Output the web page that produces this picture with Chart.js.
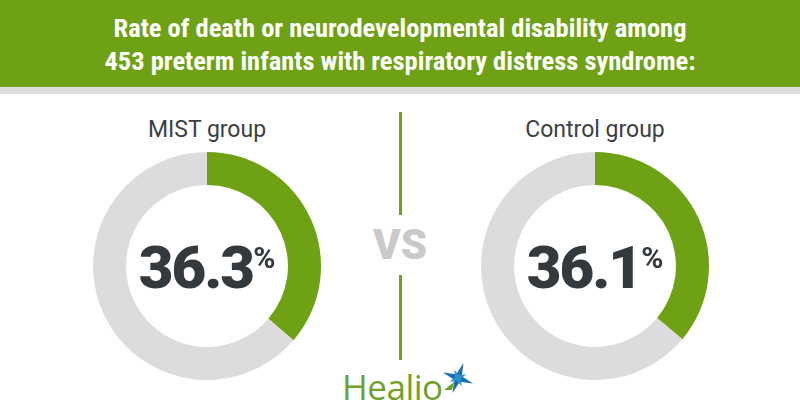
<!DOCTYPE html>
<html>
<head>
<meta charset="utf-8">
<script src="https://cdn.jsdelivr.net/npm/chart.js@4.4.1/dist/chart.umd.min.js"></script>
<style>
  body { margin: 0; width: 800px; height: 420px; overflow: hidden; background: #fff; font-family: Roboto, sans-serif; }
  .header { position: absolute; left: 0; top: 0; width: 800px; height: 87px; background: #6ea113; }
  .band { position: absolute; left: 0; top: 87px; width: 800px; height: 7px; background: #dedede; }
  .title { position: absolute; left: 0; width: 800px; text-align: center; color: #fff;
           font-family: "Liberation Sans Narrow", "Roboto Condensed", sans-serif; font-weight: bold; font-size: 26.5px; }
  .group { position: absolute; width: 240px; text-align: center; color: #3a4044; font-size: 23px; top: 116px; }
  .wrap { position: absolute; width: 240px; height: 240px; top: 146px; }
  .big { position: absolute; width: 240px; text-align: center; top: 232px; color: #33393d; font-weight: 900; font-size: 60px;
         letter-spacing: -2px; font-family: Roboto, sans-serif; }
  .big sup { font-size: 30px; vertical-align: 20px; margin-left: 0; letter-spacing: 0; font-weight: 700; }
  .vline { position: absolute; left: 399px; width: 3px; background: #6ea113; }
  .vs { position: absolute; left: 350px; width: 100px; top: 220px; text-align: center; color: #c9c9c9; font-weight: 900; font-size: 42px; }
  .logo { position: absolute; left: 342px; top: 363px; color: #6fa22b; font-size: 35px; font-family: "Open Sans", sans-serif; letter-spacing: -0.5px; }
</style>
</head>
<body>
<div class="header"></div>
<div class="band"></div>
<div class="title" style="top:12px">Rate of death or neurodevelopmental disability among</div>
<div class="title" style="top:45px">453 preterm infants with respiratory distress syndrome:</div>

<div class="group" id="g0" style="left:87px"></div>
<div class="group" id="g1" style="left:475px"></div>

<div class="wrap" style="left:87px"><canvas id="c0"></canvas></div>
<div class="wrap" style="left:475px"><canvas id="c1"></canvas></div>
<div class="big" id="b0" style="left:87px"></div>
<div class="big" id="b1" style="left:475px"></div>

<div class="vline" style="top:112px;height:103px"></div>
<div class="vline" style="top:275px;height:85px"></div>
<div class="vs">VS</div>
<div class="logo">Healio</div>
<svg style="position:absolute;left:440px;top:360px" width="36" height="36" viewBox="0 0 36 36">
  <polygon points="18,2 21,15 34,18 21,21 18,34 15,21 2,18 15,15" fill="#1f6fae" transform="rotate(20 18 18)"/>
  <polygon points="18,9 20,16 27,18 20,20 18,27 16,20 9,18 16,16" fill="#2b8fd0" transform="rotate(-25 18 18)"/>
  <polygon points="4,30 14,22 12,30" fill="#6fa22b"/>
</svg>

<script>
// data
const groups = ["MIST group", "Control group"];
const rates = [36.3, 36.1];

const green = "#6ea113";
const grey = "#dcdcdc";

groups.forEach((name, i) => {
  document.getElementById("g" + i).textContent = name;
  document.getElementById("b" + i).innerHTML = rates[i].toFixed(1) + "<sup>%</sup>";

  new Chart(document.getElementById("c" + i), {
    type: "doughnut",
    data: {
      labels: ["Death or disability", "Other"],
      datasets: [{
        data: [rates[i], 100 - rates[i]],
        backgroundColor: [green, grey],
        borderWidth: 0
      }]
    },
    options: {
      responsive: true,
      maintainAspectRatio: false,
      animation: false,
      cutout: "71%",
      layout: { padding: 6 },
      plugins: { legend: { display: false }, tooltip: { enabled: false } }
    }
  });
});
</script>
</body>
</html>
